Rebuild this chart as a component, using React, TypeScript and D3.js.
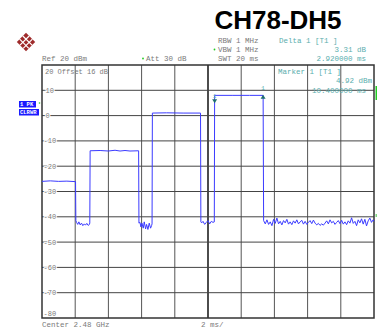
import React from "react";
import * as d3 from "d3";

const W = 377;
const H = 329;

const yTicks = [10, 0, -10, -20, -30, -40, -50, -60, -70];
const xDivs = [0, 2, 4, 6, 8, 10, 12, 14, 16, 18, 20];
const yDivs = [20, 10, 0, -10, -20, -30, -40, -50, -60, -70, -80];

// trace: time (ms) and level (dBm)
const traceTime = [
  0, 0.5, 1.0, 1.5, 2.02,
  2.04, 2.08, 2.15, 2.22, 2.3, 2.38, 2.46, 2.55, 2.62, 2.7, 2.78, 2.86, 2.88,
  2.9, 3.5, 4.0, 4.4, 4.7, 5.0, 5.3, 5.82,
  5.84, 5.9, 5.96, 6.02, 6.1, 6.16, 6.24, 6.3, 6.38, 6.46, 6.54, 6.6, 6.63,
  6.65, 7.5, 8.5, 9.55,
  9.57, 9.62, 9.7, 9.8, 9.9, 10.0, 10.1, 10.2, 10.3, 10.38,
  10.4, 11.5, 12.5, 13.32,
  13.35, 13.45, 13.55, 13.65, 13.75, 13.85, 13.95, 14.05, 14.15, 14.25, 14.35, 14.45, 14.55, 14.65, 14.75, 14.85, 14.95,
  15.05, 15.15, 15.25, 15.35, 15.45, 15.55, 15.65, 15.75, 15.85, 15.95, 16.05, 16.15, 16.25, 16.35, 16.45, 16.55, 16.65,
  16.75, 16.85, 16.95, 17.05, 17.15, 17.25, 17.35, 17.45, 17.55, 17.65, 17.75, 17.85, 17.95, 18.05, 18.15, 18.25, 18.35,
  18.45, 18.55, 18.65, 18.75, 18.85, 18.95, 19.05, 19.15, 19.25, 19.35, 19.45, 19.55, 19.65, 19.75, 19.85, 19.95, 20,
];
const traceLevel = [
  -26.0, -25.8, -26.0, -25.9, -26.1,
  -41.5, -42.2, -43.0, -42.0, -43.2, -42.5, -43.5, -42.8, -43.3, -42.6, -43.4, -43.0, -42.4,
  -13.9, -13.8, -14.0, -13.7, -14.0, -13.8, -14.0, -13.9,
  -42.5, -42.2, -44.0, -42.5, -44.5, -42.0, -44.8, -43.0, -45.0, -42.5, -44.5, -43.5, -42.8,
  1.0, 1.1, 1.0, 1.0,
  -42.0, -42.4, -41.8, -43.0, -42.2, -41.5, -42.8, -41.8, -42.2, -42.0,
  8.0, 8.0, 8.0, 8.0,
  -41.5, -42.8, -41.2, -43.0, -42.0, -43.5, -41.0, -42.6, -40.5, -42.8, -41.8, -43.2, -41.5, -42.4, -41.0, -42.9, -42.0,
  -43.1, -41.6, -42.5, -41.2, -42.8, -42.0, -41.4, -42.9, -41.8, -43.0, -42.2, -41.5, -42.7, -41.3, -42.5, -43.2, -42.6,
  -43.4, -42.8, -43.3, -42.5, -41.6, -42.8, -41.2, -42.4, -41.8, -43.0, -42.2, -41.5, -42.7, -41.4, -42.9, -42.0, -43.1,
  -41.6, -42.5, -40.4, -42.6, -41.8, -43.5, -41.2, -42.4, -40.8, -42.9, -41.0, -43.6, -41.6, -40.5, -42.2, -41.2, -41.8,
];

const marker1 = { t: 10.4, v: 8.0 };
const delta1 = { t: 13.32, v: 8.0 };

const mono = "'Liberation Mono', 'DejaVu Sans Mono', monospace";
const gray = "#7a7a7a";
const teal = "#5aaeae";

export default function App() {
  const left = 42, right = 374, top = 65, bottom = 318;
  const x = d3.scaleLinear().domain([0, 20]).range([left, right]);
  const y = d3.scaleLinear().domain([-80, 20]).range([bottom, top]);
  const pts: [number, number][] = traceTime.map((t, i) => [t, traceLevel[i]]);
  const line = d3
    .line<[number, number]>()
    .x((d) => x(d[0]))
    .y((d) => y(d[1]));

  return (
    <svg
      width={W}
      height={H}
      style={{ position: "absolute", left: 0, top: 0, background: "#fff" }}
      fontFamily={mono}
    >
      <rect x={0} y={0} width={W} height={H} fill="#fff" />
      {/* logo */}
      <g transform="translate(26,42) rotate(45)">
        <rect x={-6.5} y={-6.5} width={13} height={13} fill="#9e2a2a" />
        <line x1={-6.5} y1={-2} x2={6.5} y2={-2} stroke="#fff" strokeWidth={1.2} />
        <line x1={-6.5} y1={2.5} x2={6.5} y2={2.5} stroke="#fff" strokeWidth={1.2} />
        <line x1={-2} y1={-6.5} x2={-2} y2={6.5} stroke="#fff" strokeWidth={1.2} />
        <line x1={2.5} y1={-6.5} x2={2.5} y2={6.5} stroke="#fff" strokeWidth={1.2} />
      </g>
      {/* title */}
      <text
        x={278}
        y={29}
        textAnchor="middle"
        fontFamily="'Liberation Sans', Arial, sans-serif"
        fontWeight="bold"
        fontSize={26}
        fill="#000"
      >
        CH78-DH5
      </text>
      {/* header text */}
      <g fontSize={7.5} fill={gray}>
        <text x={218} y={43}>RBW 1 MHz</text>
        <text x={218} y={52}>VBW 1 MHz</text>
        <text x={218} y={61}>SWT 20 ms</text>
        <text x={42} y={61}>Ref  20 dBm</text>
        <text x={146} y={61}>Att  30 dB</text>
      </g>
      <circle cx={214.5} cy={49.5} r={0.9} fill="#22cc22" />
      <circle cx={143} cy={58.5} r={0.9} fill="#22cc22" />
      <g fontSize={7.5} fill={teal}>
        <text x={279} y={43}>Delta 1 [T1 ]</text>
        <text x={366} y={52} textAnchor="end">3.31 dB</text>
        <text x={366} y={61} textAnchor="end">2.920000 ms</text>
      </g>
      {/* grid */}
      <g>
        {xDivs.slice(1, -1).map((d) => (
          <line
            key={"gx" + d}
            x1={x(d)}
            x2={x(d)}
            y1={top}
            y2={bottom}
            stroke={d === 10 ? "#000" : "#555"}
            strokeWidth={d === 10 ? 1.4 : 1}
          />
        ))}
        {yDivs.slice(1, -1).map((d) => (
          <line key={"gy" + d} x1={left} x2={right} y1={y(d)} y2={y(d)} stroke="#444" strokeWidth={1} />
        ))}
        <rect x={left} y={top} width={right - left} height={bottom - top} fill="none" stroke="#333" strokeWidth={1.5} />
      </g>
      {/* y labels */}
      <g fontSize={7} fill={gray}>
        <text x={45} y={73.5}>20  Offset  16 dB</text>
        {yTicks.map((v) => (
          <text
            key={"yl" + v}
            x={v < 0 ? 43.5 : 45.5}
            y={y(v) + 2.5}
            stroke="#fff"
            strokeWidth={2}
            paintOrder="stroke"
          >
            {String(v)}
          </text>
        ))}
        <text x={43.5} y={315.5}>-80</text>
      </g>
      {/* marker text */}
      <g fontSize={7.5} fill={teal}>
        <text x={278} y={74}>Marker 1 [T1 ]</text>
        <text x={372} y={83} textAnchor="end">4.92 dBm</text>
        <text x={366} y={92.5} textAnchor="end">10.400000 ms</text>
      </g>
      {/* trace */}
      <path d={line(pts) || ""} fill="none" stroke="#3b3bff" strokeWidth={1} />
      {/* markers */}
      <path
        d={`M${x(marker1.t) - 2.5},${y(marker1.v) + 4} L${x(marker1.t) + 2.5},${y(marker1.v) + 4} L${x(marker1.t)},${y(marker1.v) + 8} Z`}
        fill="#1f6f6f"
      />
      <text x={x(marker1.t)} y={y(marker1.v) + 3} fontSize={6} fill={teal} textAnchor="middle">1</text>
      <path
        d={`M${x(delta1.t) - 2.5},${y(delta1.v) + 3.5} L${x(delta1.t) + 2.5},${y(delta1.v) + 3.5} L${x(delta1.t)},${y(delta1.v) - 0.5} Z`}
        fill="#1f6f6f"
      />
      <text x={x(delta1.t)} y={y(delta1.v) - 5} fontSize={6} fill={teal} textAnchor="middle">1</text>
      {/* trace labels */}
      <rect x={19} y={101} width={17} height={6.5} fill="#1a1aff" />
      <rect x={19} y={109} width={20} height={6.5} fill="#1a1aff" />
      <g fontSize={5.5} fill="#fff" fontWeight="bold">
        <text x={20} y={106.3}>1 PK</text>
        <text x={20} y={114.3}>CLRWR</text>
      </g>
      <circle cx={39.5} cy={103} r={0.8} fill="#22cc22" />
      <rect x={375.5} y={86} width={1.5} height={14} fill="#22cc22" />
      <rect x={375.5} y={214} width={1.5} height={3} fill="#7fd67f" />
      {/* bottom */}
      <g fontSize={7.5} fill={gray}>
        <text x={42} y={327}>Center 2.48 GHz</text>
        <text x={201} y={327}>2 ms/</text>
      </g>
    </svg>
  );
}
